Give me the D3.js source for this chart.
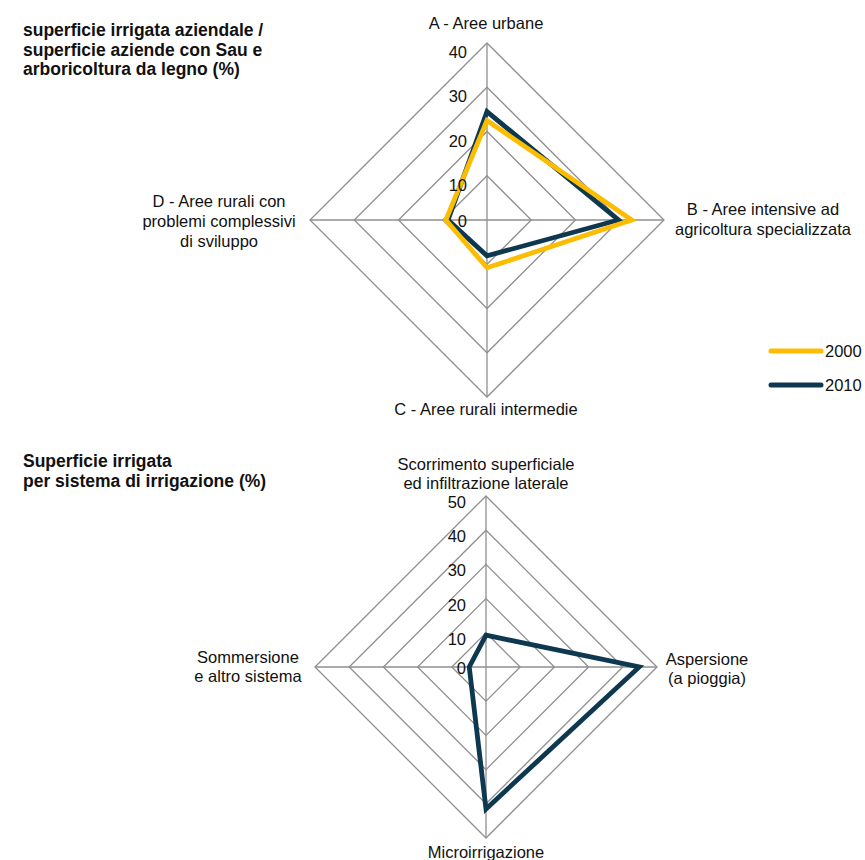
<!DOCTYPE html>
<html>
<head>
<meta charset="utf-8">
<script src="https://cdn.jsdelivr.net/npm/d3@7"></script>
<style>
  html, body { margin: 0; padding: 0; background: #fff; }
  svg { display: block; font-family: "Liberation Sans", Arial, Helvetica, sans-serif; }
</style>
</head>
<body>
<svg id="chart" width="865" height="860"></svg>
<script>
// Top radar: share of irrigated area by rural area type
const areaCategories = [
  ["A - Aree urbane"],
  ["B - Aree intensive ad", "agricoltura specializzata"],
  ["C - Aree rurali intermedie"],
  ["D - Aree rurali con", "problemi complessivi", "di sviluppo"]
];
const areaValues2000 = [22.5, 32.7, 10.8, 9.3];
const areaValues2010 = [24.5, 29.7, 8.1, 8.8];
const areaTicks = [0, 10, 20, 30, 40];
const areaTitle = ["superficie irrigata aziendale /", "superficie aziende con Sau e", "arboricoltura da legno (%)"];

// Bottom radar: irrigated area by irrigation system
const systemCategories = [
  ["Scorrimento superficiale", "ed infiltrazione laterale"],
  ["Aspersione", "(a pioggia)"],
  ["Microirrigazione"],
  ["Sommersione", "e altro sistema"]
];
const systemValues2010 = [9.3, 44.8, 41.5, 4.9];
const systemTicks = [0, 10, 20, 30, 40, 50];
const systemTitle = ["Superficie irrigata", "per sistema di irrigazione (%)"];

const seriesNames = ["2000", "2010"];
const colors = { "2000": "#FCBD00", "2010": "#0D3850" };

const svg = d3.select("#chart");
const gridColor = "#8f8f8f";
const labelSize = 16.5;

function drawRadar(cfg) {
  const g = svg.append("g").attr("transform", `translate(${cfg.cx},${cfg.cy})`);
  const n = cfg.categories.length;
  const angle = d3.scaleLinear().domain([0, n]).range([0, 2 * Math.PI]);
  const r = d3.scaleLinear().domain([0, d3.max(cfg.ticks)]).range([0, cfg.radius]);
  const pt = (i, v) => [Math.sin(angle(i)) * r(v), -Math.cos(angle(i)) * r(v)];

  // concentric rings
  cfg.ticks.filter(t => t > 0).forEach(t => {
    g.append("path")
      .attr("d", d3.line()(d3.range(n).map(i => pt(i, t))) + "Z")
      .attr("fill", "none").attr("stroke", gridColor).attr("stroke-width", 1.3);
  });
  // spokes
  d3.range(n).forEach(i => {
    const [x, y] = pt(i, d3.max(cfg.ticks));
    g.append("line").attr("x1", 0).attr("y1", 0).attr("x2", x).attr("y2", y)
      .attr("stroke", gridColor).attr("stroke-width", 1.3);
  });

  // series
  const radial = d3.lineRadial()
    .angle((d, i) => angle(i))
    .radius(d => r(d))
    .curve(d3.curveLinearClosed);
  cfg.series.forEach(s => {
    g.append("path")
      .attr("d", radial(s.values))
      .attr("fill", "none")
      .attr("stroke", colors[s.name])
      .attr("stroke-width", 4.8)
      .attr("stroke-linejoin", "miter");
  });

  // radial tick labels
  g.selectAll("text.tick").data(cfg.ticks).join("text")
    .attr("class", "tick")
    .attr("x", -cfg.tickGap)
    .attr("y", d => -r(d) + (d === 0 ? 1 : cfg.tickShift))
    .attr("text-anchor", "end")
    .attr("dominant-baseline", "central")
    .attr("font-size", labelSize)
    .attr("fill", "#111")
    .text(d => d);

  // category labels
  cfg.categories.forEach((lines, i) => {
    const pos = cfg.labelPos[i];
    const t = svg.append("text")
      .attr("text-anchor", "middle")
      .attr("font-size", labelSize)
      .attr("fill", "#111");
    lines.forEach((line, k) => {
      t.append("tspan").attr("x", pos[0]).attr("y", pos[1] + k * cfg.lineStep).text(line);
    });
  });

  // title
  const title = svg.append("text")
    .attr("font-size", 17.5).attr("font-weight", "bold").attr("fill", "#111");
  cfg.title.forEach((line, k) => {
    title.append("tspan").attr("x", 23).attr("y", cfg.titleY + k * cfg.titleStep).text(line);
  });
}

drawRadar({
  cx: 487, cy: 220, radius: 177,
  categories: areaCategories,
  ticks: areaTicks,
  tickGap: 20, tickShift: 9,
  series: [
    { name: "2010", values: areaValues2010 },
    { name: "2000", values: areaValues2000 }
  ],
  labelPos: [[486, 29], [763, 215], [486, 415], [219, 207]],
  lineStep: 20,
  title: areaTitle, titleY: 36, titleStep: 19.5
});

drawRadar({
  cx: 486, cy: 667, radius: 171,
  categories: systemCategories,
  ticks: systemTicks,
  tickGap: 20, tickShift: 6,
  series: [
    { name: "2010", values: systemValues2010 }
  ],
  labelPos: [[486, 470], [707, 665], [486, 858], [248, 663]],
  lineStep: 19,
  title: systemTitle, titleY: 467, titleStep: 20
});

// legend
const legend = svg.append("g");
seriesNames.forEach((name, k) => {
  const y = 351 + k * 34;
  legend.append("line")
    .attr("x1", 771).attr("x2", 821).attr("y1", y).attr("y2", y)
    .attr("stroke", colors[name]).attr("stroke-width", 5).attr("stroke-linecap", "round");
  legend.append("text")
    .attr("x", 825).attr("y", y).attr("dominant-baseline", "central")
    .attr("font-size", labelSize).attr("fill", "#111").text(name);
});
</script>
</body>
</html>
